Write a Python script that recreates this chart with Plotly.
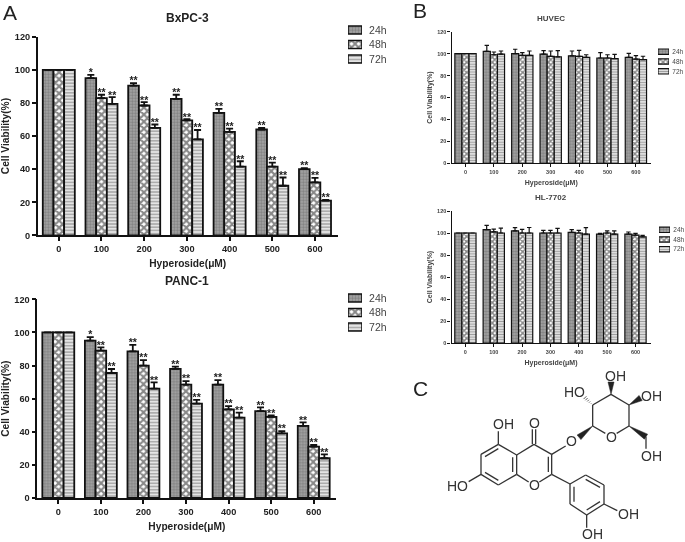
import plotly.graph_objects as go

doses = ["0", "100", "200", "300", "400", "500", "600"]
times = ["24h", "48h", "72h"]

bxpc_24 = [100, 95, 90.5, 82.5, 74, 64, 40]
bxpc_48 = [100, 83, 78.5, 69.5, 62.5, 41.5, 32]
bxpc_72 = [100, 79.5, 65, 58, 41.5, 30, 21]
bxpc_24_err = [0, 2, 1.5, 2.5, 2.5, 1, 0.7]
bxpc_48_err = [0, 2, 2, 0.7, 2, 2.5, 2.7]
bxpc_72_err = [0, 4, 2, 5.7, 3.3, 5, 0.5]

panc_24 = [100, 95, 88.5, 78, 68.5, 52.5, 43.5]
panc_48 = [100, 89, 80, 68.5, 53.5, 49, 31]
panc_72 = [100, 75.5, 66, 57, 48.5, 39, 24]
panc_24_err = [0, 2.2, 4, 1.3, 2.7, 2.2, 2.2]
panc_48_err = [0, 2, 3.3, 2.1, 2, 0.9, 1]
panc_72_err = [0, 2.4, 3.8, 2.2, 3, 1.4, 2.4]

huvec_24 = [100, 102, 100, 99.5, 98, 96, 96.5]
huvec_48 = [100, 99, 98.5, 97.5, 97.5, 96, 95]
huvec_72 = [100, 99.5, 98.5, 97, 96.5, 95.5, 94.5]
huvec_24_err = [0, 5.6, 4, 3.2, 4.4, 4.9, 3.8]
huvec_48_err = [0, 2.5, 2.4, 4.9, 5.5, 3, 3.2]
huvec_72_err = [0, 2.9, 3.9, 5.7, 2.5, 3.9, 3.1]

hl_24 = [100, 103, 102, 100, 100.5, 99, 99]
hl_48 = [100, 101, 100, 100, 100, 100, 98]
hl_72 = [100, 100, 100, 100, 99, 99, 96.5]
hl_24_err = [0, 4, 2.8, 2.4, 2.5, 0.7, 1.9]
hl_48_err = [0, 2.6, 3.3, 2.4, 2.4, 2, 1.7]
hl_72_err = [0, 4.5, 5, 4.2, 5.8, 3, 1.4]

stars_24 = ["", "*", "**", "**", "**", "**", "**"]
stars_rest = ["", "**", "**", "**", "**", "**", "**"]

W, H = 685, 542
FONT = "Liberation Sans"
BAR_W = 0.25
STAR_DROP = 2.4  # the glyph sits high in its line box

fig = go.Figure()
layout_axes = {}
annotations = []
shapes = []
axis_no = 0


def fx(px):
    return px / W


def fy(px):
    return 1 - px / H


def bar_pattern(k, small):
    # 24h dotted grey, 48h black check, 72h light stripes
    if k == 0:
        return dict(shape=".", size=3, solidity=0.5, fgcolor="#5a5a5a", bgcolor="#a8a8a8")
    if k == 1:
        return dict(shape="x", size=3.6 if small else 5, solidity=0.65, fgcolor="#111111", bgcolor="#ffffff")
    return dict(shape="-", size=2.6 if small else 3.2, solidity=0.4, fgcolor="#5a5a5a", bgcolor="#e4e4e4")


def next_axes():
    global axis_no
    axis_no += 1
    return axis_no


def add_panel(title, series, errs, center0, step, y0, y120, title_y, small=False, stars=None):
    n = next_axes()
    xa, ya = f"x{n}", f"y{n}"
    left = center0 - 0.49 * step
    right = center0 + 6.53 * step
    tick_size = 5.5 if small else 9.2
    title_size = 7 if small else 10.2
    txt = "#444444" if small else "#222222"
    lw = 1.2 if small else 1.8
    for k, (vals, err) in enumerate(zip(series, errs)):
        xs = [i + (k - 1) * BAR_W for i in range(len(doses))]
        fig.add_trace(go.Bar(
            x=xs, y=vals, width=BAR_W, name=times[k], xaxis=xa, yaxis=ya, showlegend=False,
            marker=dict(color="#aaaaaa", pattern=bar_pattern(k, small), line=dict(color="#111111", width=lw)),
            error_y=dict(type="data", symmetric=False, array=err, arrayminus=[0] * len(err),
                         color="#111111", thickness=lw, width=2.2 if small else 3.5),
        ))
        if stars:
            marks = stars_24 if k == 0 else stars_rest
            fig.add_trace(go.Scatter(
                x=xs, y=[v + e - STAR_DROP for v, e in zip(vals, err)], text=marks, mode="text",
                textposition="top center", xaxis=xa, yaxis=ya, showlegend=False,
                textfont=dict(family=FONT, size=10.5, color="#222222", weight="bold"),
            ))
    layout_axes[f"xaxis{n}"] = dict(
        domain=[fx(left), fx(right)], range=[-0.49, 6.53], anchor=ya, automargin=False,
        tickmode="array", tickvals=list(range(len(doses))), ticktext=doses,
        ticks="outside", ticklen=3 if small else 4, tickwidth=lw, tickcolor="#111111",
        showline=True, linecolor="#111111", linewidth=lw, showgrid=False, zeroline=False,
        tickfont=dict(family=FONT, size=tick_size, color=txt, weight="bold"),
        title=dict(text="Hyperoside(μM)", standoff=6 if small else 7,
                   font=dict(family=FONT, size=title_size, color=txt, weight="bold")),
    )
    layout_axes[f"yaxis{n}"] = dict(
        domain=[fy(y0), fy(y120)], range=[0, 120], anchor=xa, automargin=False,
        tickmode="array", tickvals=[0, 20, 40, 60, 80, 100, 120],
        ticks="outside", ticklen=3 if small else 4, tickwidth=lw, tickcolor="#111111",
        showline=True, linecolor="#111111", linewidth=lw, showgrid=False, zeroline=False,
        tickfont=dict(family=FONT, size=tick_size, color=txt, weight="bold"),
        title=dict(text="Cell Viability(%)", standoff=3,
                   font=dict(family=FONT, size=title_size, color=txt, weight="bold")),
    )
    annotations.append(dict(
        text=title, x=fx((left + right) / 2), y=fy(title_y), xref="paper", yref="paper",
        showarrow=False, xanchor="center", yanchor="middle",
        font=dict(family=FONT, size=8 if small else 12, color=txt, weight="bold"),
    ))


def add_key(px0, px1, py0, py1, small=False):
    # the small swatches at the right of each chart
    n = next_axes()
    xa, ya = f"x{n}", f"y{n}"
    for k in range(3):
        fig.add_trace(go.Bar(
            x=[1], y=[times[k]], orientation="h", name=times[k], xaxis=xa, yaxis=ya, showlegend=False,
            width=0.55,
            marker=dict(color="#aaaaaa", pattern=bar_pattern(k, small),
                        line=dict(color="#111111", width=1.2 if small else 1.6)),
        ))
    layout_axes[f"xaxis{n}"] = dict(domain=[fx(px0), fx(px1)], range=[0, 1], anchor=ya, visible=False,
                                    automargin=False)
    layout_axes[f"yaxis{n}"] = dict(
        domain=[fy(py1), fy(py0)], anchor=xa, side="right", autorange="reversed", automargin=False,
        categoryorder="array", categoryarray=times, type="category",
        showline=False, showgrid=False, zeroline=False, ticks="outside",
        ticklen=1 if small else 4, tickcolor="rgba(0,0,0,0)",
        tickfont=dict(family=FONT, size=6.5 if small else 10.5, color="#444444"),
    )


add_panel("BxPC-3", [bxpc_24, bxpc_48, bxpc_72], [bxpc_24_err, bxpc_48_err, bxpc_72_err],
          58.8, 42.7, 235.4, 36.8, 18, stars=True)
add_panel("PANC-1", [panc_24, panc_48, panc_72], [panc_24_err, panc_48_err, panc_72_err],
          58.3, 42.57, 498, 299.3, 281, stars=True)
add_panel("HUVEC", [huvec_24, huvec_48, huvec_72], [huvec_24_err, huvec_48_err, huvec_72_err],
          465.5, 28.4, 163.3, 31.7, 19, small=True)
add_panel("HL-7702", [hl_24, hl_48, hl_72], [hl_24_err, hl_48_err, hl_72_err],
          465.4, 28.35, 343, 211, 198, small=True)

add_key(348, 362, 22.7, 66.3)
add_key(348, 362, 290.7, 334.3)
add_key(658, 669, 46.8, 76.2, small=True)
add_key(659, 670, 225, 254, small=True)


# hyperoside structure, points at 3x zoom of the corner (410, 360)
def sx(v):
    return fx(410 + v / 3)


def sy(v):
    return fy(360 + v / 3)


def bond(a, b, width=1.3):
    shapes.append(dict(type="line", xref="paper", yref="paper", x0=sx(a[0]), y0=sy(a[1]),
                       x1=sx(b[0]), y1=sy(b[1]), line=dict(color="#333333", width=width)))


def wedge(tip, base, half=9):
    dx, dy = base[0] - tip[0], base[1] - tip[1]
    size = (dx * dx + dy * dy) ** 0.5
    nx, ny = -dy / size * half, dx / size * half
    pts = [tip, (base[0] + nx, base[1] + ny), (base[0] - nx, base[1] - ny)]
    path = "M " + " L ".join(f"{sx(p[0]):.4f},{sy(p[1]):.4f}" for p in pts) + " Z"
    shapes.append(dict(type="path", xref="paper", yref="paper", path=path,
                       fillcolor="#222222", line=dict(color="#222222", width=0.5)))


def hashed(tip, base, count=5):
    for i in range(1, count + 1):
        t = i / count
        cx, cy = tip[0] + (base[0] - tip[0]) * t, tip[1] + (base[1] - tip[1]) * t
        half = 6 * t
        bond((cx - half * 0.7, cy + half * 0.7), (cx + half * 0.7, cy - half * 0.7), 0.8)


def atom(text, x, y, size=14):
    annotations.append(dict(text=text, x=sx(x), y=sy(y), xref="paper", yref="paper", showarrow=False,
                            xanchor="center", yanchor="middle",
                            font=dict(family=FONT, size=size, color="#333333")))


ring_a = [(265, 253), (320, 285), (320, 343), (265, 375), (213, 343), (213, 283)]
for i in range(6):
    bond(ring_a[i], ring_a[(i + 1) % 6])
bond((265, 266), (225, 290))
bond((225, 337), (265, 361))
bond((308, 292), (308, 336))

bond((320, 285), (372, 253))
bond((372, 253), (425, 283))
bond((425, 283), (425, 343))
bond((415, 290), (415, 336))
bond((425, 343), (388, 366))
bond((356, 366), (320, 343))
bond((367, 253), (367, 208))
bond((377, 253), (377, 208))
bond((265, 253), (265, 214))
bond((213, 343), (176, 365))
bond((425, 283), (467, 258))

sugar = [(548, 198), (586, 220), (620, 220), (657, 198), (657, 135), (603, 103), (548, 135)]
bond(sugar[0], sugar[1])
bond(sugar[2], sugar[3])
bond(sugar[3], sugar[4])
bond(sugar[4], sugar[5])
bond(sugar[5], sugar[6])
bond(sugar[6], sugar[0])
wedge((548, 198), (507, 232))
wedge((603, 103), (603, 66))
wedge((657, 135), (692, 114))
wedge((657, 198), (708, 230))
hashed((548, 135), (525, 113))
bond((708, 230), (708, 266))

phenyl = [(480, 372), (527, 345), (582, 375), (582, 432), (530, 465), (480, 432)]
for i in range(6):
    bond(phenyl[i], phenyl[(i + 1) % 6])
bond((425, 343), (480, 372))
bond((527, 358), (570, 382))
bond((570, 425), (530, 450))
bond((492, 380), (492, 425))
bond((582, 432), (622, 452))
bond((530, 465), (530, 503))

atom("OH", 281, 192)
atom("O", 372, 190)
atom("HO", 143, 378)
atom("O", 372, 376)
atom("O", 485, 243)
atom("O", 603, 230)
atom("OH", 617, 47)
atom("HO", 494, 95)
atom("OH", 724, 107)
atom("OH", 724, 289)
atom("OH", 655, 461)
atom("OH", 548, 522)

for letter, px, py in [("A", 10, 12), ("B", 420, 11), ("C", 420, 388)]:
    annotations.append(dict(text=letter, x=fx(px), y=fy(py), xref="paper", yref="paper", showarrow=False,
                            xanchor="center", yanchor="middle",
                            font=dict(family=FONT, size=21, color="#222222")))

fig.update_layout(
    width=W, height=H, margin=dict(l=0, r=0, t=0, b=0), autosize=False,
    plot_bgcolor="white", paper_bgcolor="white", barmode="overlay", showlegend=False,
    annotations=annotations, shapes=shapes, **layout_axes,
)
fig.write_html(
    "out.html",
    config={"displayModeBar": False},
    post_script="document.body.style.margin='0';document.body.style.overflow='hidden';"
                "document.body.style.filter='blur(0.65px)';",
)
